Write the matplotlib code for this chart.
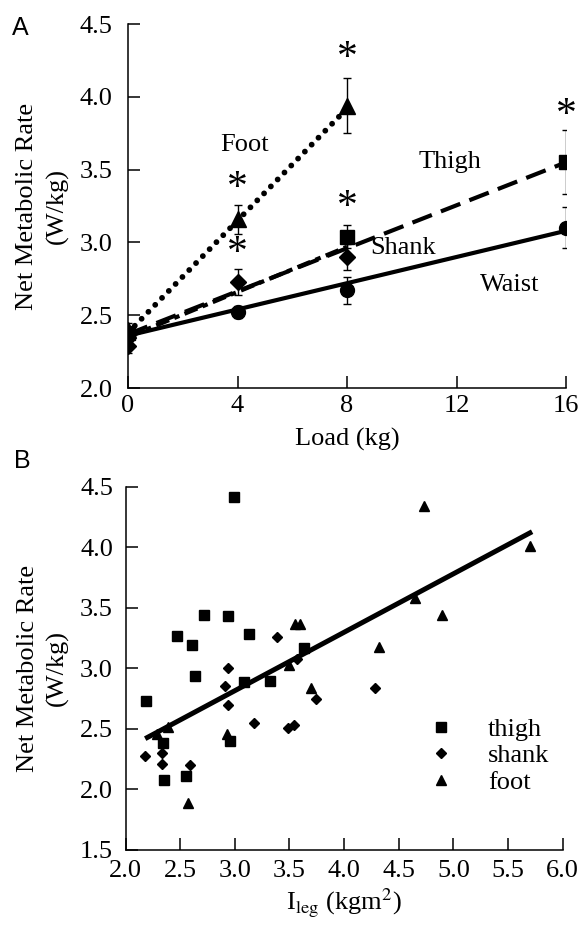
import numpy as np
import matplotlib
matplotlib.use('Agg')
import matplotlib.pyplot as plt

plt.rcParams['font.family'] = ['Liberation Serif', 'DejaVu Serif']
plt.rcParams['mathtext.fontset'] = 'stix'
plt.rcParams['lines.scale_dashes'] = False

# ---- panel A data: net metabolic rate vs added load ----
waist_x = [0, 4, 8, 16]
waist_y = [2.36, 2.52, 2.67, 3.10]
waist_err = [0.05, 0.04, 0.09, 0.14]
waist_fit_x = [0, 16]
waist_fit_y = [2.36, 3.08]

thigh_x = [0, 8, 16]
thigh_y = [2.38, 3.04, 3.55]
thigh_err = [0.04, 0.08, 0.22]
thigh_fit_x = [0, 16]
thigh_fit_y = [2.37, 3.55]

shank_x = [0, 4, 8]
shank_y = [2.29, 2.73, 2.90]
shank_err = [0.05, 0.09, 0.09]
shank_fit_x = [0, 8]
shank_fit_y = [2.35, 2.97]

foot_x = [0, 4, 8]
foot_y = [2.40, 3.16, 3.94]
foot_err = [0.05, 0.10, 0.19]
foot_fit_x = [0, 8]
foot_fit_y = [2.38, 3.92]

star_x = [4, 4, 8, 8, 16]
star_y = [3.37, 2.92, 4.26, 3.24, 3.87]

seg_names = ['Foot', 'Thigh', 'Shank', 'Waist']
seg_lab_x = [4.27, 11.75, 10.04, 13.94]
seg_lab_y = [3.67, 3.55, 2.96, 2.71]

# ---- panel B data: net metabolic rate vs leg moment of inertia ----
thigh_i = [2.995, 2.72, 2.94, 2.47, 3.13, 2.61, 3.63, 2.635, 3.08, 3.32,
           2.185, 2.34, 2.955, 2.35, 2.55]
thigh_r = [4.42, 3.44, 3.43, 3.27, 3.285, 3.19, 3.17, 2.94, 2.885, 2.90,
           2.73, 2.38, 2.40, 2.08, 2.11]
shank_i = [3.39, 2.94, 2.91, 2.94, 3.74, 4.28, 3.18, 3.49, 3.54, 2.175,
           2.33, 2.33, 2.59, 3.565]
shank_r = [3.26, 3.00, 2.855, 2.70, 2.75, 2.84, 2.55, 2.505, 2.53, 2.28,
           2.30, 2.21, 2.20, 3.08]
foot_i = [4.73, 5.70, 4.65, 4.90, 3.55, 3.60, 4.32, 3.495, 3.70, 2.93,
          2.39, 2.285, 2.575]
foot_r = [4.34, 4.01, 3.58, 3.44, 3.37, 3.37, 3.18, 3.03, 2.835, 2.46,
          2.52, 2.46, 1.886]
fit_i = [2.18, 5.72]
fit_r = [2.42, 4.13]

fs = 19
fig = plt.figure(figsize=(5.8, 9.27), dpi=100)
ax1 = fig.add_axes([0.2207, 0.5814, 0.7552, 0.3927])
ax2 = fig.add_axes([0.2164, 0.0831, 0.7538, 0.3916])

for ax in (ax1, ax2):
    ax.spines['top'].set_visible(False)
    ax.spines['right'].set_visible(False)
    for s in ('left', 'bottom'):
        ax.spines[s].set_linewidth(1.1)
    ax.tick_params(direction='in', length=8.5, width=1.1, labelsize=fs)

# panel A
eb = dict(color='black', elinewidth=1.0, capsize=3, capthick=1.0, linestyle='none')
ax1.plot(waist_fit_x, waist_fit_y, color='black', lw=3)
ax1.plot(thigh_fit_x, thigh_fit_y, color='black', lw=3, dashes=(15, 7))
ax1.plot(shank_fit_x, shank_fit_y, color='black', lw=3, dashes=(10, 4, 4, 4))
ax1.plot(foot_fit_x, foot_fit_y, color='black', lw=4.2, dashes=(0.01, 7),
         dash_capstyle='round')
ax1.errorbar(waist_x, waist_y, yerr=waist_err, marker='o', ms=10, mfc='black', mec='black', **eb)
ax1.errorbar(thigh_x, thigh_y, yerr=thigh_err, marker='s', ms=10, mfc='black', mec='black', **eb)
ax1.errorbar(shank_x, shank_y, yerr=shank_err, marker='D', ms=8, mfc='black', mec='black', **eb)
ax1.errorbar(foot_x, foot_y, yerr=foot_err, marker='^', ms=11, mfc='black', mec='black', **eb)
for x, y in zip(star_x, star_y):
    ax1.text(x, y, '*', fontsize=30, ha='center', va='center')
for name, x, y in zip(seg_names, seg_lab_x, seg_lab_y):
    ax1.text(x, y, name, fontsize=fs, ha='center', va='center')

ax1.set_xlim(0, 16)
ax1.set_ylim(2.0, 4.5)
ax1.set_xticks([0, 4, 8, 12, 16])
ax1.set_yticks([2.0, 2.5, 3.0, 3.5, 4.0, 4.5])
ax1.set_yticklabels(['%.1f' % v for v in ax1.get_yticks()])
ax1.tick_params(axis='y', pad=11)
ax1.tick_params(axis='x', pad=5)
ax1.set_xlabel('Load (kg)', fontsize=fs, labelpad=8)
ax1.set_ylabel('Net Metabolic Rate\n(W/kg)', fontsize=fs, labelpad=8, linespacing=1.4)
fig.text(0.02, 0.97, 'A', fontsize=18, family='Liberation Sans', va='center')

# panel B
ax2.plot(fit_i, fit_r, color='black', lw=3.6, solid_capstyle='butt')
ax2.plot(thigh_i, thigh_r, 's', ms=7, color='black', label='thigh')
ax2.plot(shank_i, shank_r, 'D', ms=5.5, color='black', label='shank')
ax2.plot(foot_i, foot_r, '^', ms=7.5, color='black', label='foot')
ax2.set_xlim(2.0, 6.0)
ax2.set_ylim(1.5, 4.5)
ax2.set_xticks(np.arange(2.0, 6.01, 0.5))
ax2.set_yticks(np.arange(1.5, 4.51, 0.5))
ax2.set_xticklabels(['%.1f' % v for v in ax2.get_xticks()])
ax2.set_yticklabels(['%.1f' % v for v in ax2.get_yticks()])
ax2.tick_params(axis='y', pad=9)
ax2.tick_params(axis='x', pad=7)
ax2.set_xlabel(r'I$_{\mathrm{leg}}$ (kgm$^{2}$)', fontsize=fs, labelpad=4)
ax2.set_ylabel('Net Metabolic Rate\n(W/kg)', fontsize=fs, labelpad=8, linespacing=1.4)
ax2.legend(loc='center left', bbox_to_anchor=(0.6908, 0.2598), frameon=False,
           fontsize=fs, handlelength=1.0, handletextpad=1.29, labelspacing=0.12,
           borderpad=0, borderaxespad=0)
fig.text(0.025, 0.503, 'B', fontsize=18, family='Liberation Sans', va='center')

fig.savefig('out.png', dpi=100)
